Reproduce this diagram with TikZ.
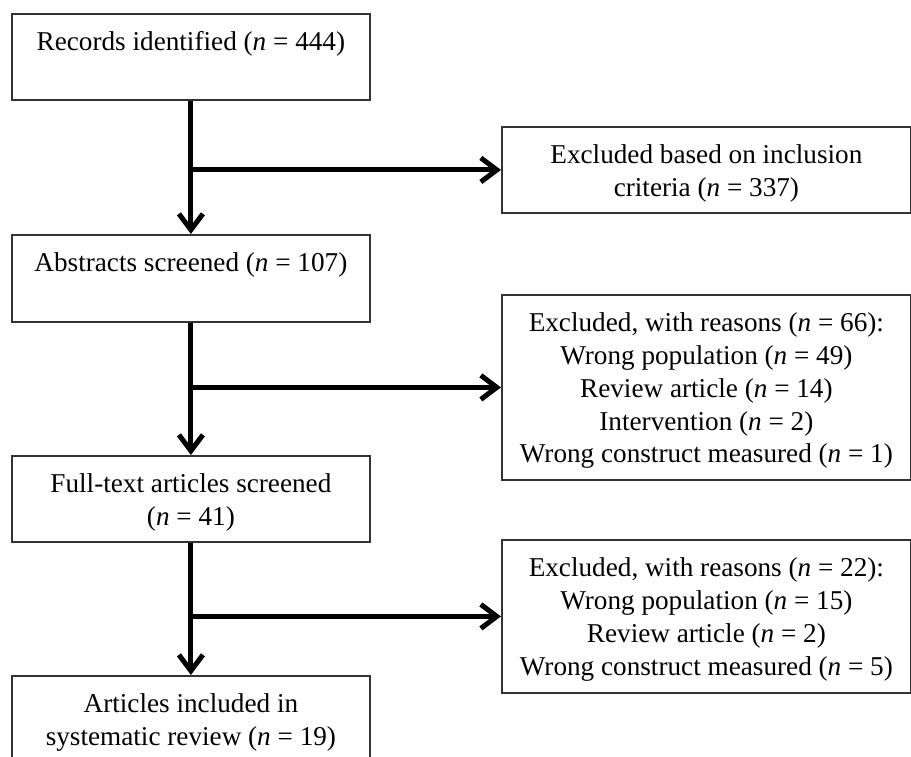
\documentclass[tikz,border=0pt]{standalone}
\usepackage{fontspec}
\setmainfont{Liberation Serif}
\usetikzlibrary{arrows.meta}
\newcommand{\bxt}[3]{\parbox[c][#2][t]{#1}{\centering\rule{0pt}{37pt}#3}}
\tikzset{
  bx/.style={draw=black!80, line width=1.8pt, inner sep=0pt, anchor=north west,
    font=\fontsize{27.2}{32.7}\selectfont},
  arr/.style={line width=5pt, -{Straight Barb[length=16pt,width=24pt]}}
}
\begin{document}
\begin{tikzpicture}[x=1pt,y=-1pt]
\useasboundingbox (0,0) rectangle (911,757);
\clip (0,0) rectangle (911,757);
\node[bx] (b1) at (11,13) {\bxt{358pt}{86pt}{Records identified (\textit{n} = 444)}};
\node[bx] (b2) at (501,126) {\bxt{409pt}{86pt}{Excluded based on inclusion\\criteria (\textit{n} = 337)}};
\node[bx] (b3) at (11,234) {\bxt{358pt}{87pt}{Abstracts screened (\textit{n} = 107)}};
\node[bx] (b4) at (501,294) {\bxt{409pt}{185pt}{Excluded, with reasons (\textit{n} = 66):\\Wrong population (\textit{n} = 49)\\Review article (\textit{n} = 14)\\Intervention (\textit{n} = 2)\\Wrong construct measured (\textit{n} = 1)}};
\node[bx] (b5) at (11,455) {\bxt{358pt}{86pt}{Full-text articles screened\\(\textit{n} = 41)}};
\node[bx] (b6) at (501,539) {\bxt{409pt}{153pt}{Excluded, with reasons (\textit{n} = 22):\\Wrong population (\textit{n} = 15)\\Review article (\textit{n} = 2)\\Wrong construct measured (\textit{n} = 5)}};
\node[bx] (b7) at (11,675) {\bxt{358pt}{100pt}{Articles included in\\systematic review (\textit{n} = 19)}};
\draw[arr] (b1.south) -- (b3.north);
\draw[arr] (b1.south |- b2.west) -- (b2.west);
\draw[arr] (b3.south) -- (b5.north);
\draw[arr] (b3.south |- b4.west) -- (b4.west);
\draw[arr] (b5.south) -- (b7.north);
\draw[arr] (b5.south |- b6.west) -- (b6.west);
\end{tikzpicture}
\end{document}
